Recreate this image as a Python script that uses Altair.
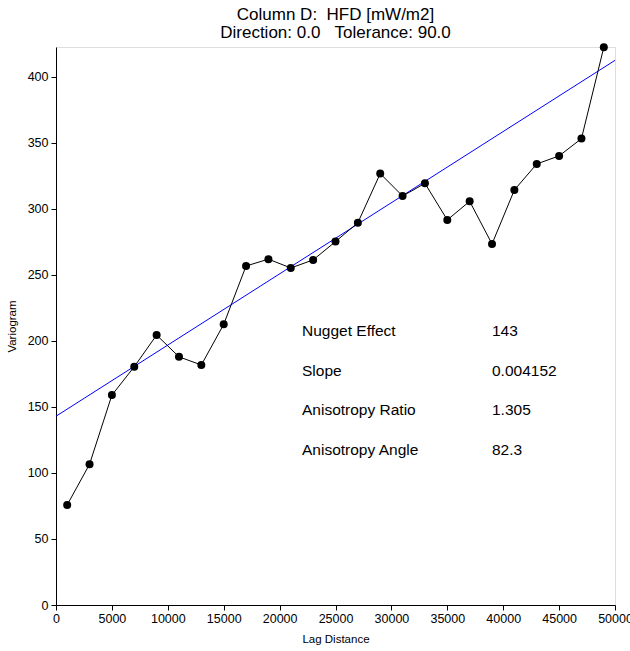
import altair as alt
import pandas as pd

lag = [1000, 3000, 5000, 7000, 9000, 11000, 13000, 15000, 17000, 19000, 21000,
       23000, 25000, 27000, 29000, 31000, 33000, 35000, 37000, 39000, 41000,
       43000, 45000, 47000, 49000]
gamma = [75.8, 106.6, 159, 180.5, 204.5, 188, 181.8, 212.6, 256.8, 262, 255.3,
         261.4, 275.3, 289.6, 326.8, 309.8, 319.4, 291.7, 305.8, 273.5, 314.4,
         334.1, 340.2, 353.3, 422.5]

fit_x = [0, 50000]
fit_y = [143, 412.6]

ann_labels = ["Nugget Effect", "Slope", "Anisotropy Ratio", "Anisotropy Angle"]
ann_values = ["143", "0.004152", "1.305", "82.3"]

title_lines = ["Column D:\u00a0\u00a0HFD [mW/m2]", "Direction: 0.0\u00a0\u00a0\u00a0Tolerance: 90.0"]

FONT = "Liberation Sans"
W, H = 559, 558

pts = pd.DataFrame({"lag": lag, "gamma": gamma})
fit = pd.DataFrame({"lag": fit_x, "gamma": fit_y})

xscale = alt.Scale(domain=[0, 50000], nice=False, zero=False)
yscale = alt.Scale(domain=[0, 422.7], nice=False)

xaxis = alt.Axis(values=list(range(0, 50001, 5000)), format="d", title="Lag Distance", grid=False,
                 labelFont=FONT, titleFont=FONT, labelFontSize=12.5, titleFontSize=11.5,
                 titleFontWeight="normal", labelColor="black", titleColor="black",
                 domainColor="black", tickColor="black", tickSize=5, labelPadding=2,
                 titlePadding=9, labelFlush=False, labelOverlap=False)
yaxis = alt.Axis(values=list(range(0, 401, 50)), format="d", title="Variogram", grid=False,
                 labelFont=FONT, titleFont=FONT, labelFontSize=12.5, titleFontSize=11.5,
                 titleFontWeight="normal", labelColor="black", titleColor="black",
                 domainColor="black", tickColor="black", tickSize=5, labelPadding=3,
                 titlePadding=10, labelFlush=False, labelOverlap=False)

line = alt.Chart(pts).mark_line(color="black", strokeWidth=1).encode(
    x=alt.X("lag:Q", scale=xscale, axis=xaxis),
    y=alt.Y("gamma:Q", scale=yscale, axis=yaxis),
)
points = alt.Chart(pts).mark_circle(color="black", size=64, opacity=1).encode(
    x=alt.X("lag:Q", scale=xscale),
    y=alt.Y("gamma:Q", scale=yscale),
)
fitline = alt.Chart(fit).mark_line(color="#0000ff", strokeWidth=1, clip=True).encode(
    x=alt.X("lag:Q", scale=xscale),
    y=alt.Y("gamma:Q", scale=yscale),
)

layers = [fitline, line, points]
for i, (lab, val) in enumerate(zip(ann_labels, ann_values)):
    ypix = 284 + i * 39.5
    layers.append(alt.Chart(pts).mark_text(
        text=lab, align="left", baseline="middle", font=FONT, fontSize=15.5, color="black"
    ).encode(x=alt.value(246), y=alt.value(ypix)).transform_filter("datum.lag == 1000"))
    layers.append(alt.Chart(pts).mark_text(
        text=val, align="left", baseline="middle", font=FONT, fontSize=15.5, color="black"
    ).encode(x=alt.value(436), y=alt.value(ypix)).transform_filter("datum.lag == 1000"))

chart = alt.layer(*layers).properties(
    width=W, height=H,
    title=alt.TitleParams(title_lines, anchor="middle", font=FONT, fontSize=17,
                          fontWeight="normal", color="black", lineHeight=18, offset=1),
    autosize=alt.AutoSizeParams(type="none"),
    padding={"left": 56, "top": 47, "right": 15, "bottom": 46},
).configure_view(stroke=None).configure(background="white")

chart.save("out.html", embed_options={"renderer": "svg", "actions": False})
